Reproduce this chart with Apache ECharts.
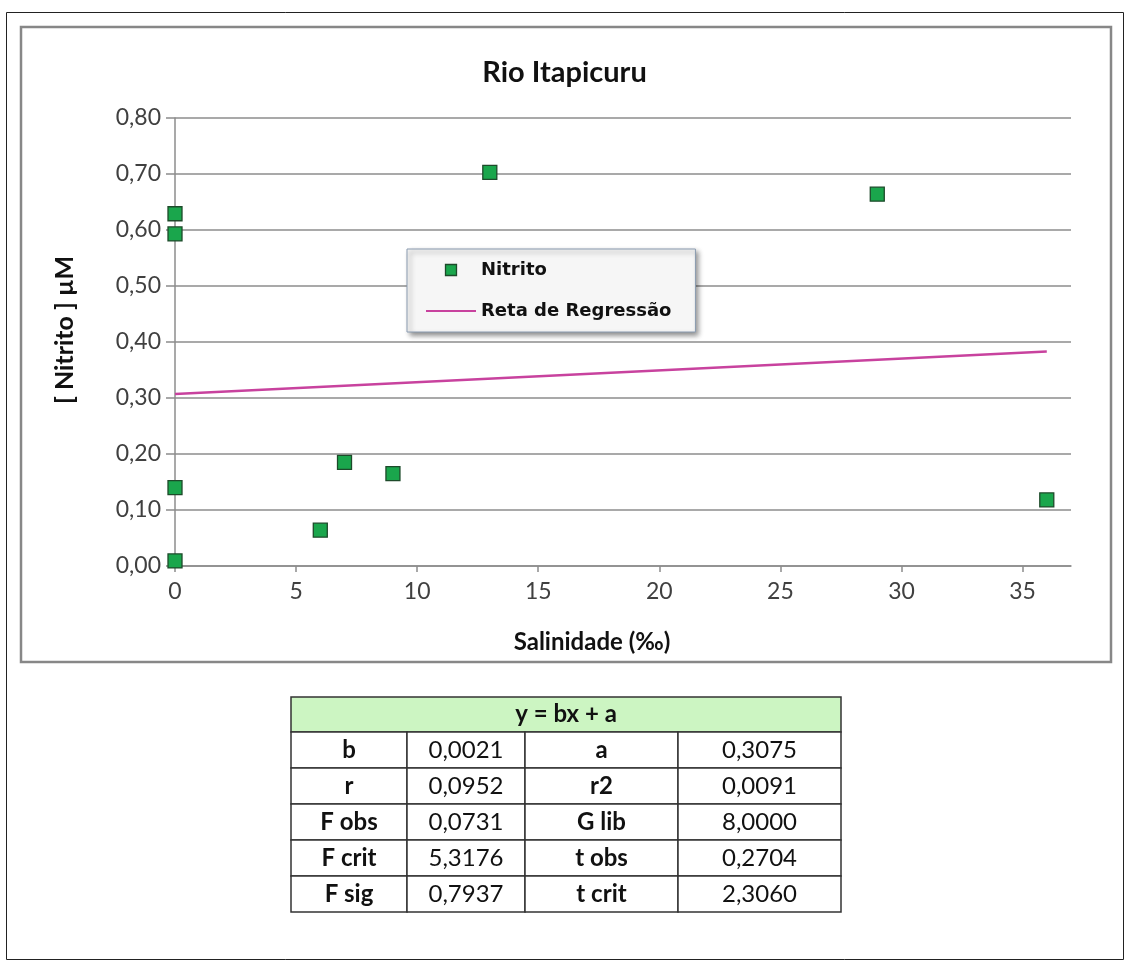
<!DOCTYPE html>
<html>
<head>
<meta charset="utf-8">
<script src="https://cdn.jsdelivr.net/npm/echarts@6/dist/echarts.min.js"></script>
<style>
html,body{margin:0;padding:0;background:#fff;}
#chart{width:1129px;height:965px;}
</style>
</head>
<body>
<div id="chart"></div>
<script>
// ---- data ----
const salinidade = [0, 0, 0, 0, 6, 7, 9, 13, 29, 36];
const nitrito = [0.629, 0.593, 0.140, 0.009, 0.064, 0.185, 0.165, 0.703, 0.664, 0.118];
const regressaoX = [0, 36];
const regressaoY = [0.307, 0.383];
const xTickLabels = [0, 5, 10, 15, 20, 25, 30, 35];
const tableHeader = 'y = bx + a';
const tableLabelsA = ['b', 'r', 'F obs', 'F crit', 'F sig'];
const tableValuesA = ['0,0021', '0,0952', '0,0731', '5,3176', '0,7937'];
const tableLabelsB = ['a', 'r2', 'G lib', 't obs', 't crit'];
const tableValuesB = ['0,3075', '0,0091', '8,0000', '0,2704', '2,3060'];

const chart = echarts.init(document.getElementById('chart'));

const FONT = 'Lato, "Open Sans", sans-serif';
const scatterData = salinidade.map((x, i) => [x, nitrito[i]]);
const lineData = regressaoX.map((x, i) => [x, regressaoY[i]]);

// table graphics
const colX = [291, 407, 525, 678, 841];
const rowY = [697, 732, 768, 804, 840, 876, 912];
const tableEls = [];
tableEls.push({type:'rect', shape:{x:colX[0], y:rowY[0], width:colX[4]-colX[0], height:rowY[1]-rowY[0]},
  style:{fill:'#ccf5c2', stroke:'#333', lineWidth:1.5}});
tableEls.push({type:'text', x:(colX[0]+colX[4])/2, y:(rowY[0]+rowY[1])/2,
  style:{text:tableHeader, font:'bold 24px '+FONT, fill:'#111', align:'center', verticalAlign:'middle'}});
const cols = [tableLabelsA, tableValuesA, tableLabelsB, tableValuesB];
for (let r = 0; r < tableLabelsA.length; r++) {
  for (let c = 0; c < 4; c++) {
    const y0 = rowY[r+1], y1 = rowY[r+2];
    tableEls.push({type:'rect', shape:{x:colX[c], y:y0, width:colX[c+1]-colX[c], height:y1-y0},
      style:{fill:'#fff', stroke:'#333', lineWidth:1.5}});
    tableEls.push({type:'text', x:(colX[c]+colX[c+1])/2, y:(y0+y1)/2,
      style:{text:String(cols[c][r]), font:(c%2===0?'bold ':'')+'24px '+FONT, fill:'#111', align:'center', verticalAlign:'middle'}});
  }
}

const option = {
  animation: false,
  backgroundColor: '#fff',
  title: {
    text: 'Rio Itapicuru', left: 'center', top: 53,
    textStyle: {fontFamily: FONT, fontSize: 29, fontWeight: 'bold', color: '#111'}
  },
  grid: {left: 175, top: 118, width: 896, height: 448, containLabel: false},
  legend: {
    orient: 'vertical', left: 407, top: 249,
    padding: [10, 24, 10, 19], itemGap: 19, itemWidth: 50, itemHeight: 11,
    symbolKeepAspect: true,
    backgroundColor: '#f6f6f6', borderColor: '#8a9bb0', borderWidth: 1,
    shadowColor: 'rgba(0,0,0,0.45)', shadowBlur: 5, shadowOffsetX: 3, shadowOffsetY: 3,
    textStyle: {fontFamily: '"DejaVu Sans", sans-serif', fontWeight: 'bold', fontSize: 18, color: '#111', lineHeight: 22},
    data: [
      {name: 'Nitrito', icon: 'path://M0,0H10V10H0Z',
        itemStyle: {color: '#1aa64c', borderColor: '#1d4a2a', borderWidth: 1.3}},
      {name: 'Reta de Regressão', icon: 'path://M0,0H50V2.2H0Z',
        itemStyle: {color: '#c8429e', borderWidth: 0}}
    ]
  },
  xAxis: {
    type: 'value', min: 0, max: 37, interval: 5,
    axisLine: {show: true, onZero: false, lineStyle: {color: '#8c8c8c', width: 1.5}},
    axisTick: {show: true, length: 6, inside: false, customValues: xTickLabels, lineStyle: {color: '#8c8c8c', width: 1.5}},
    axisLabel: {customValues: xTickLabels, margin: 14, fontFamily: FONT, fontSize: 23, color: '#404040'},
    splitLine: {show: false}
  },
  yAxis: {
    type: 'value', min: 0, max: 0.8, interval: 0.1,
    axisLine: {show: true, lineStyle: {color: '#8c8c8c', width: 1.5}},
    axisTick: {show: true, length: 9, inside: false, lineStyle: {color: '#8c8c8c', width: 1.5}},
    axisLabel: {margin: 14, fontFamily: FONT, fontSize: 23, color: '#404040',
      formatter: v => v.toFixed(2).replace('.', ',')},
    splitLine: {show: true, lineStyle: {color: '#8c8c8c', width: 1.5}}
  },
  series: [
    {
      name: 'Nitrito', type: 'scatter', data: scatterData, symbol: 'rect', symbolSize: 14, z: 5,
      itemStyle: {color: '#1aa64c', borderColor: '#1d4a2a', borderWidth: 1.3, opacity: 1}
    },
    {
      name: 'Reta de Regressão', type: 'line', data: lineData, symbol: 'none', showSymbol: false, z: 3,
      lineStyle: {color: '#c8429e', width: 2.5}, itemStyle: {color: '#c8429e'}
    }
  ],
  graphic: [
    {type:'rect', shape:{x:6.5, y:12.5, width:1117, height:947}, style:{fill:'none', stroke:'#222', lineWidth:1}, z:-1},
    {type:'rect', shape:{x:21, y:27, width:1090, height:635}, style:{fill:'none', stroke:'#878787', lineWidth:2.5}, z:-1},
    {type:'text', x:65, y:330, rotation: Math.PI/2,
      style:{text:'[ Nitrito ] µM', font:'bold 25px '+FONT, fill:'#111', align:'center', verticalAlign:'middle'}},
    {type:'text', x:592, y:642,
      style:{text:'Salinidade (‰)', font:'bold 24px '+FONT, fill:'#111', align:'center', verticalAlign:'middle'}},
    {type:'group', children: tableEls}
  ]
};
chart.setOption(option);
</script>
</body>
</html>
